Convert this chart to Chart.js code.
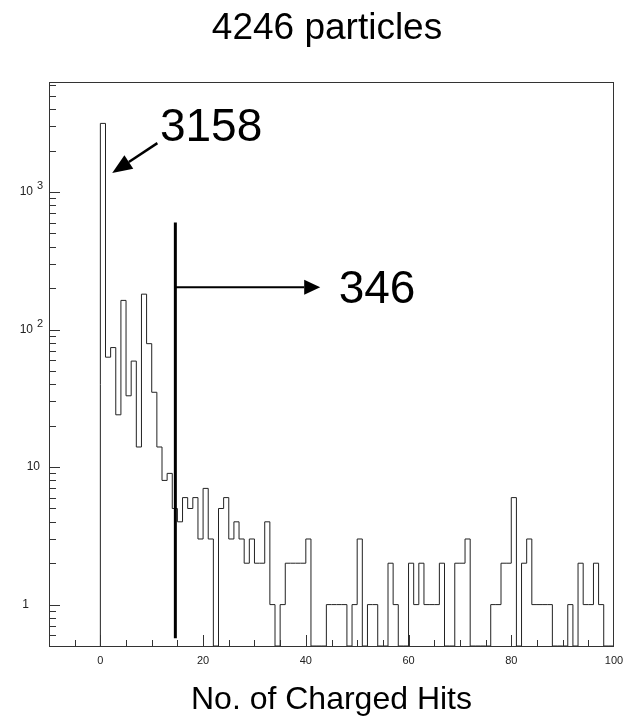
<!DOCTYPE html>
<html>
<head>
<meta charset="utf-8">
<script src="https://cdn.jsdelivr.net/npm/chart.js@4.4.1/dist/chart.umd.min.js"></script>
<style>
  html, body { margin: 0; padding: 0; background: #fff; }
</style>
</head>
<body>
<canvas id="charged-hits" width="635" height="728"></canvas>
<script>
// counts per bin of one charged hit, bins start at 0 (bin i covers [i, i+1))
const counts = [
  3158, 63, 74, 24, 163, 33, 59, 14, 181, 79,
  35, 14, 8, 9, 5, 4, 6, 5, 6, 3,
  7, 3, 0, 5, 6, 3, 4, 3, 2, 3,
  2, 2, 4, 1, 0, 1, 2, 2, 2, 2,
  3, 0, 0, 0, 1, 1, 1, 1, 0, 1,
  3, 0, 1, 1, 0, 0, 2, 1, 0, 0,
  2, 1, 2, 1, 1, 1, 2, 0, 0, 2,
  2, 3, 0, 0, 0, 0, 1, 1, 2, 2,
  6, 0, 2, 3, 1, 1, 1, 1, 0, 0,
  0, 1, 0, 2, 1, 1, 2, 1, 0, 0,
];
const xTicks = [0, 20, 40, 60, 80, 100];
const yDecades = [1, 10, 100, 1000];
const yBases = ["1", "10", "10", "10"];
const yExponents = ["", "", "2", "3"];

const xMin = -10, xMax = 100;
const yMin = 0.5, yMax = 6316;

// annotations (data coordinates)
const peakText = "3158";
const peakArrow = [[11.1, 2270], [2.3, 1374]];
const peakTextAt = [11.6, 2361];
const cutAt = 14.6;
const cutSpan = [0.57, 600];
const tailText = "346";
const tailArrow = [[14.6, 203], [42.8, 203]];
const tailTextAt = [46.4, 157];

const FONT = "'Liberation Sans', Arial, Helvetica, sans-serif";
Chart.defaults.font.family = FONT;

// step outline: start on the floor, one point per bin, back to the floor
const points = [{ x: 0, y: yMin }];
counts.forEach(function (c, i) {
  points.push({ x: i, y: c > 0 ? c : yMin });
});
points.push({ x: counts.length, y: yMin });

function arrow(ctx, x0, y0, x1, y1, lw, head, half) {
  const ang = Math.atan2(y1 - y0, x1 - x0);
  const bx = x1 - Math.cos(ang) * head, by = y1 - Math.sin(ang) * head;
  ctx.lineWidth = lw;
  ctx.beginPath();
  ctx.moveTo(x0, y0);
  ctx.lineTo(bx, by);
  ctx.stroke();
  ctx.beginPath();
  ctx.moveTo(x1, y1);
  ctx.lineTo(bx - Math.sin(ang) * half, by + Math.cos(ang) * half);
  ctx.lineTo(bx + Math.sin(ang) * half, by - Math.cos(ang) * half);
  ctx.closePath();
  ctx.fill();
}

const histDecor = {
  id: "histDecor",
  afterDatasetsDraw(chart) {
    const { ctx, chartArea: a } = chart;
    const x = chart.scales.x, y = chart.scales.y;
    ctx.save();

    // frame
    ctx.strokeStyle = "#333";
    ctx.lineWidth = 1;
    ctx.strokeRect(a.left + 0.5, a.top + 0.5, a.right - a.left - 1, a.bottom - a.top);

    // x ticks, inside, every 5
    ctx.beginPath();
    for (let v = -5; v < xMax; v += 5) {
      const px = Math.round(x.getPixelForValue(v)) + 0.5;
      const len = v % 20 === 0 ? 11 : 6;
      ctx.moveTo(px, a.bottom);
      ctx.lineTo(px, a.bottom - len);
    }
    // y ticks, inside, log minors
    [0.1, 1, 10, 100, 1000].forEach(function (d) {
      for (let m = 1; m <= 9; m++) {
        const v = m * d;
        if (v <= yMin || v >= yMax) continue;
        const py = Math.round(y.getPixelForValue(v)) + 0.5;
        ctx.moveTo(a.left, py);
        ctx.lineTo(a.left + (m === 1 ? 11 : 7), py);
      }
    });
    ctx.stroke();

    // y labels
    ctx.fillStyle = "#222";
    ctx.textBaseline = "middle";
    yDecades.forEach(function (v, i) {
      const py = y.getPixelForValue(v);
      ctx.font = "12px " + FONT;
      if (yExponents[i]) {
        ctx.textAlign = "right";
        ctx.fillText(yBases[i], a.left - 16, py);
        ctx.font = "11px " + FONT;
        ctx.textAlign = "left";
        ctx.fillText(yExponents[i], a.left - 12, py - 6);
      } else {
        ctx.textAlign = "right";
        ctx.fillText(yBases[i], a.left - (v === 1 ? 20 : 9), py);
      }
    });

    // cut line and arrows
    ctx.strokeStyle = "#000";
    ctx.fillStyle = "#000";
    ctx.lineWidth = 3;
    ctx.beginPath();
    ctx.moveTo(x.getPixelForValue(cutAt), y.getPixelForValue(cutSpan[1]));
    ctx.lineTo(x.getPixelForValue(cutAt), y.getPixelForValue(cutSpan[0]));
    ctx.stroke();

    arrow(ctx,
      x.getPixelForValue(tailArrow[0][0]), y.getPixelForValue(tailArrow[0][1]),
      x.getPixelForValue(tailArrow[1][0]), y.getPixelForValue(tailArrow[1][1]),
      2, 16, 7.5);
    arrow(ctx,
      x.getPixelForValue(peakArrow[0][0]), y.getPixelForValue(peakArrow[0][1]),
      x.getPixelForValue(peakArrow[1][0]), y.getPixelForValue(peakArrow[1][1]),
      2.5, 20, 8);

    ctx.font = "46px " + FONT;
    ctx.textAlign = "left";
    ctx.textBaseline = "alphabetic";
    ctx.fillText(peakText, x.getPixelForValue(peakTextAt[0]), y.getPixelForValue(peakTextAt[1]));
    ctx.fillText(tailText, x.getPixelForValue(tailTextAt[0]), y.getPixelForValue(tailTextAt[1]));
    ctx.restore();
  },
};

new Chart(document.getElementById("charged-hits"), {
  type: "line",
  data: {
    datasets: [
      {
        label: "charged hits",
        data: points,
        borderColor: "#222",
        borderWidth: 1,
        pointRadius: 0,
        stepped: "before",
        fill: false,
      },
    ],
  },
  options: {
    responsive: false,
    animation: false,
    layout: { padding: { left: 40, right: 21, top: 0, bottom: 0 } },
    scales: {
      x: {
        type: "linear",
        min: xMin,
        max: xMax,
        afterBuildTicks: function (s) {
          s.ticks = xTicks.map(function (v) { return { value: v }; });
        },
        afterFit: function (s) { s.height = 82; },
        grid: { display: false, drawTicks: false },
        border: { display: false },
        ticks: { color: "#222", font: { size: 11 }, padding: 8, maxRotation: 0, autoSkip: false },
        title: {
          display: true,
          text: "No. of Charged Hits",
          color: "#000",
          font: { size: 32 },
          padding: { top: 0, bottom: 9 },
        },
      },
      y: {
        type: "logarithmic",
        min: yMin,
        max: yMax,
        afterFit: function (s) { s.width = 9; },
        grid: { display: false, drawTicks: false },
        border: { display: false },
        ticks: { display: false },
      },
    },
    plugins: {
      legend: { display: false },
      tooltip: { enabled: false },
      title: {
        display: true,
        text: "4246 particles",
        color: "#000",
        font: { size: 37, weight: "normal" },
        padding: { top: 7, bottom: 30.6 },
      },
    },
  },
  plugins: [histDecor],
});
</script>
</body>
</html>
